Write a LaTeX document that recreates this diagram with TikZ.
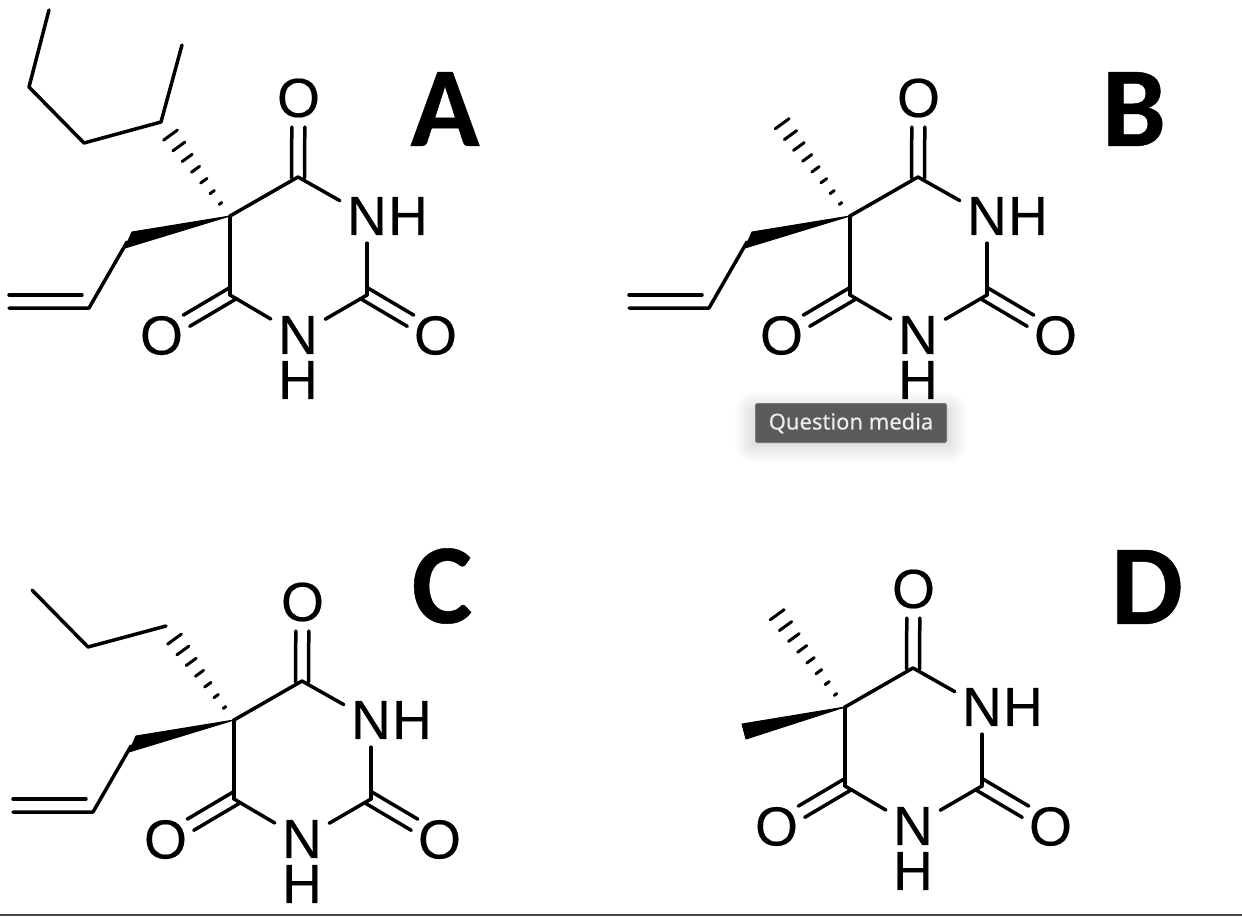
\documentclass[tikz,border=0pt]{standalone}
\usepackage{fontspec}
\setmainfont{Liberation Sans}
\newfontfamily\atomfont[FakeBold=0.35]{Liberation Sans}
\newfontfamily\letterfont[BoldFeatures={FakeBold=0.4}]{Carlito}
\newfontfamily\tipfont[FakeBold=0.3]{Noto Sans}
\tikzset{
  bond/.style={line width=3.5pt,line cap=round,line join=round},
  offs/.style 2 args={transform canvas={xshift=#1pt,yshift=#2pt}},
  oxy/.style={circle,inner sep=0pt,minimum size=56pt,font=\atomfont\fontsize{55}{55}\selectfont},
  nit/.style={rectangle,inner sep=0pt,minimum size=54pt,font=\atomfont\fontsize{55}{55}\selectfont},
  letter/.style={inner sep=0pt,font=\letterfont\bfseries\fontsize{114}{114}\selectfont},
  tipbox/.style={rectangle,inner sep=0pt,minimum width=191pt,minimum height=39pt,draw=tipedge,
    line width=1pt,rounded corners=1.5pt,fill=tipfill,text=tiptext,font=\tipfont\fontsize{22}{22}\selectfont},
  ring/.pic={
    \coordinate (c5) at (0,0);
    \coordinate (c4) at (68,-39);
    \coordinate (c2) at (137,79);
    \coordinate (c6) at (0,79);
    \node[nit] (n3) at (137,0) {N};
    \node[nit] (h3) at (178,0) {H};
    \node[nit] (n1) at (68,119) {N};
    \node[nit] (h1) at (68,164) {H};
    \node[oxy] (o4) at (68.5,-118) {O};
    \node[oxy] (o2) at (205.5,119.5) {O};
    \node[oxy] (o6) at (-68.5,119.5) {O};
    \draw[bond] (c5) -- (c4);
    \draw[bond] (c4) -- (n3);
    \draw[bond] (n3) -- (c2);
    \draw[bond] (c2) -- (n1);
    \draw[bond] (n1) -- (c6);
    \draw[bond] (c6) -- (c5);
    \draw[bond,offs={-6.5}{0},shorten <=-1pt] (c4) -- (o4);
    \draw[bond,offs={6.5}{0},shorten <=-1pt] (c4) -- (o4);
    \draw[bond,offs={-3.25}{5.6},shorten <=-4pt] (c6) -- (o6);
    \draw[bond,offs={3.25}{-5.6},shorten <=-4pt] (c6) -- (o6);
    \draw[bond,offs={3.25}{5.6},shorten <=-4pt] (c2) -- (o2);
    \draw[bond,offs={-3.25}{-5.6},shorten <=-4pt] (c2) -- (o2);
  },
  allyl/.pic={
    \coordinate (w0) at (0,0);
    \coordinate (w1) at (-98,16);
    \coordinate (w2) at (-105,32);
    \coordinate (a1) at (-103,26);
    \coordinate (a2) at (-141,92);
    \coordinate (a3) at (-221,92);
    \coordinate (a4) at (-221,79);
    \coordinate (a5) at (-148,79);
    \fill[bond,line width=1pt,draw] (w0) -- (w1) -- (w2) -- cycle;
    \draw[bond] (a1) -- (a2) -- (a3);
    \draw[bond] (a4) -- (a5);
  },
  hashbond/.pic={
    \foreach \k in {0,...,#1} {
      \pgfmathsetmacro{\wid}{1.6+\k*(#1==6 ? 1.15 : 1)}
      \draw[bond,line width=3pt] ({-9.5-8.33*\k-\wid*0.81},{-12.5-11.4*\k+\wid*0.59}) -- ({-9.5-8.33*\k+\wid*0.81},{-12.5-11.4*\k-\wid*0.59});
    }
  },
}
\definecolor{tipfill}{HTML}{5A5A59}
\definecolor{tipedge}{HTML}{787878}
\definecolor{tiptext}{HTML}{EDEDED}
\definecolor{rulegray}{HTML}{484848}
\begin{document}
\begin{tikzpicture}[x=1pt,y=-1pt]
      \path[use as bounding box,fill=white] (0,0) rectangle (1242,916);

      \pic (a-) at (230,216) {ring};
      \pic (a-) at (230,216) {allyl};
      \pic at (230,216) {hashbond=6};
      \coordinate (a-r1) at (161,122);
      \coordinate (a-r2) at (182,45);
      \coordinate (a-r3) at (84,143);
      \coordinate (a-r4) at (29,87);
      \coordinate (a-r5) at (49,10);
      \draw[bond] (a-r2) -- (a-r1) -- (a-r3) -- (a-r4) -- (a-r5);
      \node[letter] (la) at (445,109) {A};

      \pic (b-) at (850,216) {ring};
      \pic (b-) at (850,216) {allyl};
      \pic at (850,216) {hashbond=7};
      \node[letter] (lb) at (1134,109) {B};

      \pic (c-) at (234,720) {ring};
      \pic (c-) at (234,720) {allyl};
      \pic at (234,720) {hashbond=6};
      \coordinate (c-r1) at (166,626);
      \coordinate (c-r2) at (88,647);
      \coordinate (c-r3) at (32,590);
      \draw[bond] (c-r1) -- (c-r2) -- (c-r3);
      \node[letter] (lc) at (442,586) {C};

      \pic (d-) at (845,707) {ring};
      \pic at (845,707) {hashbond=7};
      \coordinate (d-w1) at (742,724);
      \coordinate (d-w2) at (746,739);
      \fill[bond,line width=1pt,draw] (d-c5) -- (d-w1) -- (d-w2) -- cycle;
      \node[letter] (ld) at (1147,587) {D};

      \foreach \g in {2,4,...,20} {
        \fill[black,opacity=0.012,rounded corners=\g pt] (755-\g,412-\g) rectangle (947+\g,443+\g);
      }
      \node[tipbox] (tip) at (851,423) {Question media};

      \coordinate (ruleleft) at (0,915);
      \coordinate (ruleright) at (1242,915);
      \draw[rulegray,line width=2pt] (ruleleft) -- (ruleright);
    \end{tikzpicture}
\end{document}
